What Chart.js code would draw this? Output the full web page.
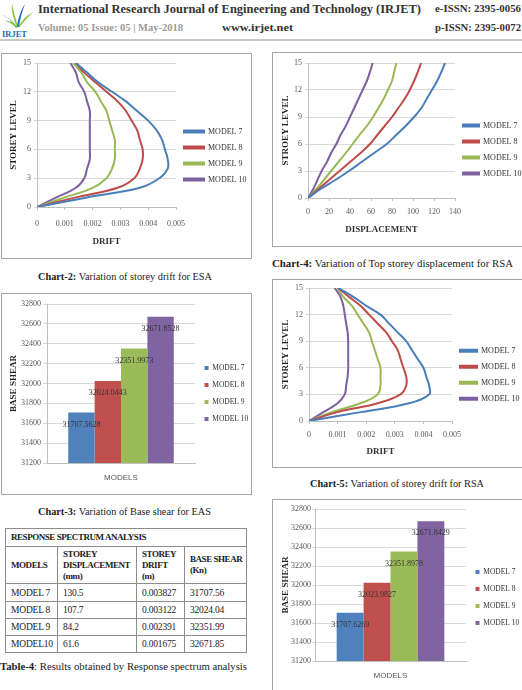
<!DOCTYPE html>
<html>
<head>
<meta charset="utf-8">
<script src="https://cdn.jsdelivr.net/npm/chart.js@4.4.1/dist/chart.umd.min.js"></script>
<style>
  body { margin: 0; width: 522px; height: 690px; overflow: hidden; background: #fff; position: relative; font-family: "Liberation Serif", serif; color: #222; }
  .abs { position: absolute; white-space: nowrap; }
  .fit { transform-origin: 0 0; }
  .box { position: absolute; border: 1px solid #a6a6a6; box-sizing: border-box; overflow: hidden; }
  .box canvas { position: absolute; left: 0; top: 0; }
  .cap { position: absolute; font-size: 11px; white-space: nowrap; }
  table { position: absolute; border-collapse: collapse; table-layout: fixed; font-size: 9.5px; }
  td { border: 1px solid #8c8c8c; padding: 0 0 0 5px; vertical-align: middle; white-space: nowrap; overflow: hidden; letter-spacing: -0.2px; }
  tr.hd td { font-weight: bold; font-size: 9px; letter-spacing: -0.45px; line-height: 11px; }
</style>
</head>
<body>

<!-- header -->
<svg class="abs" style="left:0;top:0" width="36" height="40">
  <path d="M17 27 C12 20 6 16 2 15 C8 17 13 22 16 28 Z" fill="#1d6fb8"/>
  <path d="M17 27 C13 18 11 10 12 3 C13 11 16 19 18 27 Z" fill="#8cc63f"/>
  <path d="M17 27 C18 18 21 10 25 4 C22 12 20 19 19 27 Z" fill="#1d6fb8"/>
  <path d="M18 27 C22 20 27 15 33 12 C28 17 23 22 19 28 Z" fill="#8cc63f"/>
  <path d="M17 27 C14 22 9 20 5 21 C10 22 13 25 16 28 Z" fill="#8cc63f"/>
  <text x="2" y="37" font-family="Liberation Serif" font-size="8.5" fill="#1d6fb8" font-weight="bold">IRJET</text>
</svg>
<div class="abs fit" data-w="383" style="left:38px;top:1px;font-weight:bold;font-size:13.5px;color:#333">International Research Journal of Engineering and Technology (IRJET)</div>
<div class="abs fit" data-w="86" style="left:435px;top:3px;font-weight:bold;font-size:10.5px;color:#333">e-ISSN: 2395-0056</div>
<div class="abs fit" data-w="145" style="left:38px;top:22px;font-weight:bold;font-size:10.5px;color:#9a9a9a">Volume: 05 Issue: 05 | May-2018</div>
<div class="abs fit" data-w="71" style="left:222px;top:22px;font-weight:bold;font-size:10.5px;color:#333">www.irjet.net</div>
<div class="abs fit" data-w="86" style="left:435px;top:22px;font-weight:bold;font-size:10.5px;color:#333">p-ISSN: 2395-0072</div>
<div class="abs" style="left:0;top:39px;width:522px;height:2px;background:#c8c8c8"></div>

<!-- chart boxes -->
<div class="box" style="left:1px;top:53px;width:251px;height:206px"><canvas id="c2" width="249" height="204"></canvas></div>
<div class="box" style="left:272px;top:52px;width:252px;height:195px"><canvas id="c4" width="250" height="193"></canvas></div>
<div class="box" style="left:1px;top:293px;width:251px;height:202px"><canvas id="c3" width="249" height="200"></canvas></div>
<div class="box" style="left:272px;top:279px;width:252px;height:189px"><canvas id="c5" width="250" height="187"></canvas></div>
<div class="box" style="left:272px;top:499px;width:252px;height:198px"><canvas id="c6" width="250" height="196"></canvas></div>

<!-- captions -->
<div class="cap fit" data-w="174" style="left:38px;top:270px"><b>Chart-2:</b> Variation of storey drift for ESA</div>
<div class="cap fit" data-w="241" style="left:272px;top:257px"><b>Chart-4:</b> Variation of Top storey displacement for RSA</div>
<div class="cap fit" data-w="173" style="left:38px;top:505px"><b>Chart-3:</b> Variation of Base shear for EAS</div>
<div class="cap fit" data-w="174" style="left:310px;top:477px"><b>Chart-5:</b> Variation of storey drift for RSA</div>
<div class="cap fit" data-w="247" style="left:0px;top:660px"><b>Table-4</b>: Results obtained by Response spectrum analysis</div>

<table style="left:5px;top:528px;width:241px">
  <colgroup><col style="width:52px"><col style="width:79px"><col style="width:48px"><col style="width:62px"></colgroup>
  <tr class="hd" style="height:18px"><td colspan="4">RESPONSE SPECTRUM ANALYSIS</td></tr>
  <tr class="hd" style="height:37px"><td>MODELS</td><td>STOREY<br>DISPLACEMENT<br>(mm)</td><td>STOREY<br>DRIFT<br>(m)</td><td>BASE SHEAR<br>(Kn)</td></tr>
  <tr style="height:18px"><td>MODEL 7</td><td>130.5</td><td>0.003827</td><td>31707.56</td></tr>
  <tr style="height:17px"><td>MODEL 8</td><td>107.7</td><td>0.003122</td><td>32024.04</td></tr>
  <tr style="height:17px"><td>MODEL 9</td><td>84.2</td><td>0.002391</td><td>32351.99</td></tr>
  <tr style="height:17px"><td>MODEL10</td><td>61.6</td><td>0.001675</td><td>32671.85</td></tr>
</table>

<script>
// ---- data ----
const storeys = [0, 1, 2, 3, 4, 5, 6, 7, 8, 9, 10, 11, 12, 13, 14, 15];
const models = ['MODEL 7', 'MODEL 8', 'MODEL 9', 'MODEL 10'];

// Chart-2: storey drift, ESA
const esaDrift7  = [0, 0.0018, 0.0037, 0.0044, 0.0047, 0.0047, 0.0046, 0.0045, 0.0043, 0.0040, 0.0036, 0.0032, 0.0027, 0.0022, 0.0018, 0.0014];
const esaDrift8  = [0, 0.0014, 0.0029, 0.0035, 0.0037, 0.0038, 0.0038, 0.0037, 0.0036, 0.0034, 0.0032, 0.0029, 0.0025, 0.0021, 0.0017, 0.0014];
const esaDrift9  = [0, 0.0010, 0.0020, 0.0025, 0.0027, 0.0028, 0.0028, 0.0028, 0.0027, 0.0026, 0.0025, 0.0023, 0.0021, 0.0018, 0.0016, 0.0013];
const esaDrift10 = [0, 0.0007, 0.0014, 0.0017, 0.0018, 0.0019, 0.0019, 0.0019, 0.0019, 0.0019, 0.0019, 0.0018, 0.0017, 0.0015, 0.0014, 0.0012];

// Chart-4: storey displacement, RSA
const rsaDisp7  = [0, 12, 26, 39, 51, 63, 75, 84, 93, 101, 108, 113, 118, 123, 127, 130.5];
const rsaDisp8  = [0, 10, 20, 30, 40, 50, 59, 66, 73, 80, 86, 92, 97, 101, 104.5, 107.7];
const rsaDisp9  = [0, 8, 15, 22, 29, 36, 42.5, 49, 56, 62, 67, 72, 76, 80, 82, 84.2];
const rsaDisp10 = [0, 5, 9, 13, 18, 22, 27, 31, 36, 40, 44, 48, 52, 56, 59, 61.6];

// Chart-5: storey drift, RSA
const rsaDrift7  = [0, 0.0018, 0.0035, 0.0042, 0.0042, 0.0041, 0.0040, 0.0038, 0.0036, 0.0034, 0.0031, 0.0028, 0.0025, 0.0020, 0.00155, 0.00102];
const rsaDrift8  = [0, 0.0010, 0.0024, 0.0032, 0.0034, 0.0034, 0.0033, 0.0032, 0.0031, 0.0029, 0.0027, 0.0024, 0.0021, 0.0018, 0.0014, 0.00102];
const rsaDrift9  = [0, 0.0008, 0.0018, 0.0024, 0.0025, 0.0025, 0.0025, 0.0024, 0.0023, 0.0022, 0.0021, 0.0019, 0.0017, 0.0015, 0.0012, 0.0010];
const rsaDrift10 = [0, 0.0005, 0.0010, 0.00125, 0.0013, 0.00135, 0.00137, 0.00137, 0.00137, 0.00137, 0.00135, 0.0013, 0.00125, 0.0012, 0.0011, 0.0009];

// Chart-3 / Chart-6: base shear
const esaShear = [31707.5628, 32024.0443, 32351.9973, 32671.8528];
const rsaShear = [31707.6269, 32023.9827, 32351.8978, 32671.8429];

const lineColors = ['#4a7ebb', '#be4b48', '#98b954', '#7d60a0'];
const barColors = ['#4f81bd', '#c0504d', '#9bbb59', '#8064a2'];

// ---- helpers ----
Chart.defaults.font.family = '"Liberation Serif", serif';
Chart.defaults.color = '#595959';
Chart.defaults.animation = false;

const tickFont = { size: 8 };
const titleFont = { size: 9, weight: 'bold' };

// lay: padding, x axis height, y axis width, legend width, legend box width, tick/title paddings
function lineChart(id, series, xMax, xStep, xFmt, yTitle, xTitle, lay) {
  new Chart(document.getElementById(id), {
    type: 'line',
    data: {
      datasets: series.map((s, i) => ({
        label: models[i],
        data: s.map((v, k) => ({ x: v, y: storeys[k] })),
        borderColor: lineColors[i],
        backgroundColor: lineColors[i],
        borderWidth: 2,
        pointRadius: 0,
        tension: 0.4,
        fill: false
      }))
    },
    options: {
      responsive: false,
      indexAxis: 'y',
      layout: { padding: lay.pad },
      plugins: {
        tooltip: { enabled: false },
        legend: {
          position: 'right',
          maxWidth: lay.legW,
          labels: { boxWidth: lay.boxW, boxHeight: 2, padding: 8, color: '#333', font: { size: 8 } }
        }
      },
      scales: {
        x: {
          type: 'linear', min: 0, max: xMax,
          ticks: { stepSize: xStep, font: tickFont, padding: lay.tickPad, callback: xFmt, maxRotation: 0 },
          grid: { drawOnChartArea: false, tickLength: 3, color: '#bfbfbf' },
          border: { color: '#bfbfbf' },
          title: { display: true, text: xTitle, font: titleFont, color: '#333', padding: { top: 0, bottom: lay.titlePad } },
          afterFit: s => { s.height = lay.xH; }
        },
        y: {
          type: 'linear', min: 0, max: 15,
          ticks: { stepSize: 3, font: tickFont, padding: 3 },
          grid: { color: '#d9d9d9', tickLength: 3 },
          border: { color: '#bfbfbf' },
          title: { display: true, text: yTitle, font: titleFont, color: '#222', padding: 0 },
          afterFit: s => { s.width = lay.yW; }
        }
      }
    }
  });
}

const barValueLabels = {
  id: 'barValueLabels',
  afterDatasetsDraw(chart) {
    const ctx = chart.ctx;
    ctx.save();
    ctx.font = '8px "Liberation Serif"';
    ctx.fillStyle = '#333';
    ctx.textAlign = 'center';
    ctx.textBaseline = 'middle';
    chart.data.datasets.forEach((ds, i) => {
      const bar = chart.getDatasetMeta(i).data[0];
      ctx.fillText(ds.data[0].toFixed(4), bar.x, bar.y + 12);
    });
    ctx.restore();
  }
};

function barChart(id, values, lay) {
  new Chart(document.getElementById(id), {
    type: 'bar',
    data: {
      labels: [''],
      datasets: values.map((v, i) => ({
        label: models[i],
        data: [v],
        backgroundColor: barColors[i],
        categoryPercentage: 0.713,
        barPercentage: 1
      }))
    },
    options: {
      responsive: false,
      layout: { padding: lay.pad },
      plugins: {
        tooltip: { enabled: false },
        legend: {
          position: 'right',
          maxWidth: lay.legW,
          labels: { boxWidth: 4, boxHeight: 4, padding: lay.legPad, color: '#333', font: { size: lay.legFont } }
        }
      },
      scales: {
        x: {
          grid: { display: false },
          border: { color: '#bfbfbf' },
          ticks: { display: false },
          title: { display: true, text: 'MODELS', color: '#595959', font: { family: '"Liberation Sans", sans-serif', size: 8 }, padding: { top: 0, bottom: lay.titlePad } },
          afterFit: s => { s.height = lay.xH; }
        },
        y: {
          min: 31200, max: 32800,
          ticks: { stepSize: 200, font: tickFont, padding: lay.tickPad, callback: v => v },
          grid: { color: '#d9d9d9', tickLength: lay.tickLen },
          border: { color: '#bfbfbf' },
          title: { display: true, text: 'BASE SHEAR', font: titleFont, color: '#222', padding: 0 },
          afterFit: s => { s.width = lay.yW; }
        }
      }
    },
    plugins: [barValueLabels]
  });
}

const driftFmt = v => v === 0 ? '0' : v.toFixed(3);

lineChart('c2', [esaDrift7, esaDrift8, esaDrift9, esaDrift10], 0.005, 0.001, driftFmt, 'STOREY LEVEL', 'DRIFT',
  { pad: { left: 6.6, top: 9, right: 0, bottom: 10 }, xH: 41, yW: 28.4, legW: 75, boxW: 20, tickPad: 9, titlePad: 1 });
lineChart('c4', [rsaDisp7, rsaDisp8, rsaDisp9, rsaDisp10], 140, 20, v => v, 'STROEY LEVEL', 'DISPLACEMENT',
  { pad: { left: 7.3, top: 10, right: 0, bottom: 10 }, xH: 38, yW: 27.7, legW: 68, boxW: 16, tickPad: 6, titlePad: 1 });
lineChart('c5', [rsaDrift7, rsaDrift8, rsaDrift9, rsaDrift10], 0.005, 0.001, driftFmt, 'STOREY LEVEL', 'DRIFT',
  { pad: { left: 7.6, top: 8, right: 0, bottom: 5.5 }, xH: 40.5, yW: 28.4, legW: 71, boxW: 17, tickPad: 6, titlePad: 4 });
barChart('c3', esaShear,
  { pad: { left: 6.6, top: 10, right: 0, bottom: 11 }, xH: 20, yW: 38.4, legW: 56, legPad: 9.5, legFont: 7.5, tickPad: 2, tickLen: 4, titlePad: 0 });
barChart('c6', rsaShear,
  { pad: { left: 7.6, top: 9, right: 0, bottom: 10 }, xH: 25, yW: 34.4, legW: 57, legPad: 9.5, legFont: 7.5, tickPad: 1, tickLen: 3, titlePad: 5 });

// squeeze header / caption text to the widths measured on the page
document.querySelectorAll('.fit').forEach(el => {
  const w = el.getBoundingClientRect().width;
  el.style.transform = 'scaleX(' + (Number(el.dataset.w) / w) + ')';
});
</script>
</body>
</html>
